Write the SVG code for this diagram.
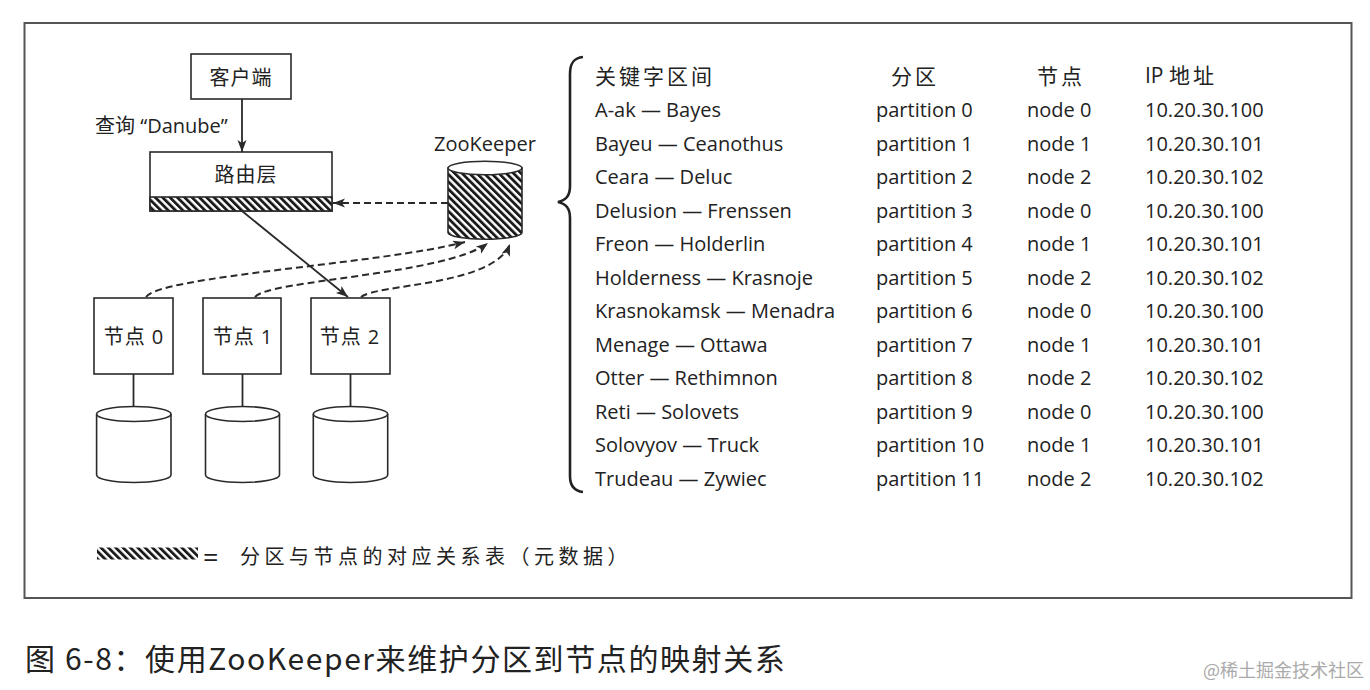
<svg xmlns="http://www.w3.org/2000/svg" width="1370" height="690" viewBox="0 0 1370 690">
<style>
.box{fill:#fff;stroke:#2a2a2a;stroke-width:1.6}
.cyl{fill:#fff;stroke:#2a2a2a;stroke-width:1.6}
.t{font-family:"Open Sans","Noto Sans CJK SC",sans-serif;font-size:20px;fill:#222}
.cj{font-family:"Noto Sans CJK SC",sans-serif;fill:#222}
.solid{fill:none;stroke:#2a2a2a;stroke-width:1.8}
.dash{fill:none;stroke:#2a2a2a;stroke-width:2;stroke-dasharray:7 4}
</style>
<defs>
<pattern id="hatch" width="5.2" height="5.2" patternUnits="userSpaceOnUse" patternTransform="rotate(-45)">
<rect width="5.2" height="5.2" fill="#fff"/>
<rect width="2.8" height="5.2" fill="#1a1a1a"/>
</pattern>
<marker id="ah" markerUnits="userSpaceOnUse" markerWidth="13" markerHeight="10" refX="12" refY="4.5" orient="auto">
<path d="M0,0 L12,4.5 L0,9 L3,4.5 z" fill="#2a2a2a" stroke="none"/>
</marker>
</defs>
<rect x="0" y="0" width="1370" height="690" fill="#fff"/>
<rect x="24.5" y="23" width="1327" height="575" fill="none" stroke="#555" stroke-width="2"/>

<g id="client">
<rect class="box" x="191" y="54" width="100" height="45"/>
<text class="cj" x="241" y="85" font-size="20" letter-spacing="1" text-anchor="middle">客户端</text>
</g>

<g id="router">
<rect class="box" x="150" y="152" width="182" height="59"/>
<rect x="150" y="197" width="182" height="14" fill="url(#hatch)" stroke="#2a2a2a" stroke-width="1.6"/>
<text class="cj" x="246" y="182" font-size="20" letter-spacing="1" text-anchor="middle">路由层</text>
</g>

<g id="zookeeper">
<text class="t" x="485" y="151" text-anchor="middle">ZooKeeper</text>
<path d="M448,168 L448,232.6 A37,6.7 0 0 0 522,232.6 L522,168 Z" fill="url(#hatch)" stroke="#2a2a2a" stroke-width="1.6"/>
<ellipse class="cyl" cx="485" cy="168" rx="37" ry="6.7"/>
</g>

<g id="node0">
<rect class="box" x="94" y="298" width="79" height="76"/>
<text class="t" x="134" y="344" text-anchor="middle" letter-spacing="1">节点 0</text>
<line class="solid" x1="133.5" y1="374" x2="133.5" y2="407" stroke-width="1.4"/>
<path class="cyl" d="M96.6,414 L96.6,475 A37.2,7.5 0 0 0 171,475 L171,414"/>
<ellipse class="cyl" cx="133.8" cy="414" rx="37.2" ry="7.5"/>
</g>

<g id="node1">
<rect class="box" x="203" y="298" width="78" height="76"/>
<text class="t" x="243" y="344" text-anchor="middle" letter-spacing="1">节点 1</text>
<line class="solid" x1="242.5" y1="374" x2="242.5" y2="407" stroke-width="1.4"/>
<path class="cyl" d="M205.5,414 L205.5,475 A37,7.5 0 0 0 279.5,475 L279.5,414"/>
<ellipse class="cyl" cx="242.5" cy="414" rx="37" ry="7.5"/>
</g>

<g id="node2">
<rect class="box" x="311" y="298" width="79" height="76"/>
<text class="t" x="350" y="344" text-anchor="middle" letter-spacing="1">节点 2</text>
<line class="solid" x1="350.5" y1="374" x2="350.5" y2="407" stroke-width="1.4"/>
<path class="cyl" d="M313.3,414 L313.3,475 A37.2,7.5 0 0 0 387.7,475 L387.7,414"/>
<ellipse class="cyl" cx="350.5" cy="414" rx="37.2" ry="7.5"/>
</g>

<g id="connectors">
<line class="solid" x1="242" y1="99" x2="242" y2="152" marker-end="url(#ah)"/>
<text class="t" x="95" y="132.5">查询 “Danube”</text>
<line class="solid" x1="242" y1="211" x2="348" y2="297" marker-end="url(#ah)"/>
<line class="dash" x1="448" y1="203" x2="333" y2="203" marker-end="url(#ah)"/>
<path class="dash" d="M146,297 C160,276 380,264 465,242" marker-end="url(#ah)"/>
<path class="dash" d="M255,297 C268,280 445,275 488,243" marker-end="url(#ah)"/>
<path class="dash" d="M361,297 C376,284 494,286 510,244" marker-end="url(#ah)"/>
</g>

<g id="table">
<path d="M583,57 C573,58 570,64 570,74 L570,186 C570,196 566,200 558,202 C566,204 570,208 570,218 L570,476 C570,486 574,491 583,492" fill="none" stroke="#222" stroke-width="2.6"/>
<text class="cj" x="595" y="84" font-size="21" letter-spacing="3">关键字区间</text>
<text class="cj" x="891" y="84" font-size="21" letter-spacing="3">分区</text>
<text class="cj" x="1037" y="84" font-size="21" letter-spacing="3">节点</text>
<text class="t" x="1145" y="83" style="font-size:21px">IP <tspan class="cj" font-size="21" letter-spacing="3">地址</tspan></text>
<g class="t">
<text x="595" y="117">A-ak — Bayes</text>
<text x="595" y="150.5">Bayeu — Ceanothus</text>
<text x="595" y="184">Ceara — Deluc</text>
<text x="595" y="217.5">Delusion — Frenssen</text>
<text x="595" y="251">Freon — Holderlin</text>
<text x="595" y="284.5">Holderness — Krasnoje</text>
<text x="595" y="318">Krasnokamsk — Menadra</text>
<text x="595" y="351.5">Menage — Ottawa</text>
<text x="595" y="385">Otter — Rethimnon</text>
<text x="595" y="418.5">Reti — Solovets</text>
<text x="595" y="452">Solovyov — Truck</text>
<text x="595" y="485.5">Trudeau — Zywiec</text>
<text x="876" y="117">partition 0</text>
<text x="876" y="150.5">partition 1</text>
<text x="876" y="184">partition 2</text>
<text x="876" y="217.5">partition 3</text>
<text x="876" y="251">partition 4</text>
<text x="876" y="284.5">partition 5</text>
<text x="876" y="318">partition 6</text>
<text x="876" y="351.5">partition 7</text>
<text x="876" y="385">partition 8</text>
<text x="876" y="418.5">partition 9</text>
<text x="876" y="452">partition 10</text>
<text x="876" y="485.5">partition 11</text>
<text x="1027" y="117">node 0</text>
<text x="1027" y="150.5">node 1</text>
<text x="1027" y="184">node 2</text>
<text x="1027" y="217.5">node 0</text>
<text x="1027" y="251">node 1</text>
<text x="1027" y="284.5">node 2</text>
<text x="1027" y="318">node 0</text>
<text x="1027" y="351.5">node 1</text>
<text x="1027" y="385">node 2</text>
<text x="1027" y="418.5">node 0</text>
<text x="1027" y="452">node 1</text>
<text x="1027" y="485.5">node 2</text>
<text x="1145" y="117">10.20.30.100</text>
<text x="1145" y="150.5">10.20.30.101</text>
<text x="1145" y="184">10.20.30.102</text>
<text x="1145" y="217.5">10.20.30.100</text>
<text x="1145" y="251">10.20.30.101</text>
<text x="1145" y="284.5">10.20.30.102</text>
<text x="1145" y="318">10.20.30.100</text>
<text x="1145" y="351.5">10.20.30.101</text>
<text x="1145" y="385">10.20.30.102</text>
<text x="1145" y="418.5">10.20.30.100</text>
<text x="1145" y="452">10.20.30.101</text>
<text x="1145" y="485.5">10.20.30.102</text>
</g>
</g>

<g id="legend">
<rect x="97" y="547.5" width="101" height="12" fill="url(#hatch)"/>
<text class="t" x="203" y="567" style="font-size:27px">=</text>
<text class="cj" x="240" y="564" font-size="20" letter-spacing="4.5">分区与节点的对应关系表（元数据）</text>
</g>

<g id="caption">
<text class="cj" x="25" y="670" font-size="30" letter-spacing="1.6">图 6-8：使用ZooKeeper来维护分区到节点的映射关系</text>
<text class="cj" x="1203" y="677" font-size="18" style="fill:#aaa">@稀土掘金技术社区</text>
</g>
</svg>
